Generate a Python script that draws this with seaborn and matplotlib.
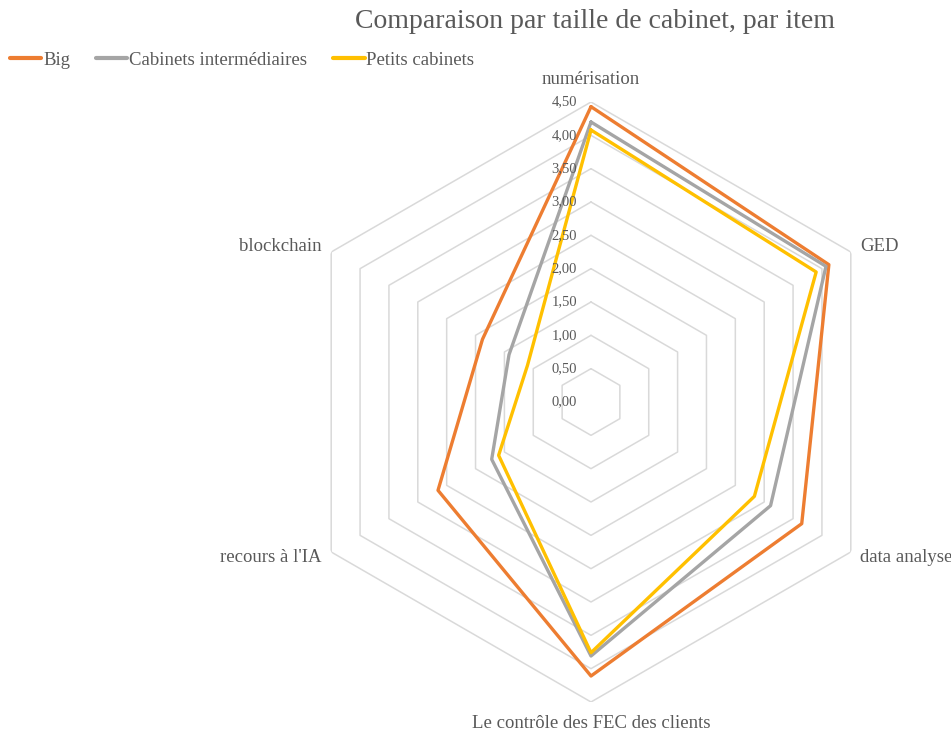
import numpy as np
import pandas as pd
import matplotlib
matplotlib.use("Agg")
import matplotlib.pyplot as plt
import matplotlib.transforms as mtrans
from matplotlib.lines import Line2D
import seaborn as sns

categories = ["numérisation", "GED", "data analyse", "Le contrôle des FEC des clients",
              "recours à l'IA", "blockchain"]
series_names = ["Big", "Cabinets intermédiaires", "Petits cabinets"]
big = [4.43, 4.12, 3.65, 4.11, 2.65, 1.88]
intermediaires = [4.20, 4.07, 3.11, 3.81, 1.72, 1.42]
petits = [4.08, 3.90, 2.83, 3.76, 1.60, 1.10]
levels = [0.5, 1.0, 1.5, 2.0, 2.5, 3.0, 3.5, 4.0, 4.5]
tick_levels = [0.0, 0.5, 1.0, 1.5, 2.0, 2.5, 3.0, 3.5, 4.0, 4.5]
tick_labels = ["0,00", "0,50", "1,00", "1,50", "2,00", "2,50", "3,00", "3,50", "4,00", "4,50"]
colors = ["#ED7D31", "#A5A5A5", "#FFC000"]

sns.set_theme(style="white")
plt.rcParams["font.family"] = ["Liberation Serif", "DejaVu Serif"]
text_color = "#595959"

n = len(categories)
angles = np.linspace(0, 2 * np.pi, n, endpoint=False)
closed_angles = np.append(angles, angles[0])

rows = []
for name, vals in zip(series_names, [big, intermediaires, petits]):
    vv = list(vals) + [vals[0]]
    for i, (a, v) in enumerate(zip(closed_angles, vv)):
        rows.append({"series": name, "theta": a, "value": v, "order": i})
df = pd.DataFrame(rows)

fig = plt.figure(figsize=(9.51, 7.31), dpi=100)
ax = fig.add_axes([291 / 951, 29 / 731, 600 / 951, 600 / 731], projection="polar")
ax.set_theta_offset(np.pi / 2)
ax.set_theta_direction(-1)

# hexagonal grid
for lv in levels:
    ax.plot(closed_angles, [lv] * len(closed_angles), color="#D9D9D9", lw=1.1, zorder=1)

sns.lineplot(data=df, x="theta", y="value", hue="series", hue_order=series_names,
             palette=colors, sort=False, estimator=None, units="series",
             lw=2.4, ax=ax, legend=False, zorder=3)

ax.set_ylim(0, 4.5)
ax.set_xticks([])
ax.set_yticks([])
ax.grid(False)
ax.spines["polar"].set_visible(False)
ax.set_xlabel("")
ax.set_ylabel("")

# radial tick labels
off = mtrans.offset_copy(ax.transData, fig=fig, x=-14, y=0, units="dots")
for lv, lab in zip(tick_levels, tick_labels):
    ax.text(0, lv, lab, transform=off, ha="right", va="center",
            fontsize=10.5, color=text_color, zorder=4)

# category labels
for a, cat in zip(angles, categories):
    deg = np.degrees(a) % 360
    if deg < 1 or abs(deg - 180) < 1:
        ax.text(a, 4.83, cat, ha="center", va="center", fontsize=13.5, color=text_color)
    elif deg < 180:
        ax.text(a, 4.66, cat, ha="left", va="center", fontsize=13.5, color=text_color)
    else:
        ax.text(a, 4.66, cat, ha="right", va="center", fontsize=13.5, color=text_color)

fig.text(595 / 951, 1 - 22 / 731, "Comparaison par taille de cabinet, par item",
         ha="center", va="center", fontsize=20, color=text_color)

handles = [Line2D([0], [0], color=c, lw=3) for c in colors]
fig.legend(handles, series_names, loc="center left", bbox_to_anchor=(2 / 951, 1 - 60 / 731),
           ncol=3, frameon=False, fontsize=13.5, handlelength=1.7, handletextpad=0.1,
           columnspacing=1.35, labelcolor=text_color, borderaxespad=0)

fig.savefig("out.png", dpi=100)
